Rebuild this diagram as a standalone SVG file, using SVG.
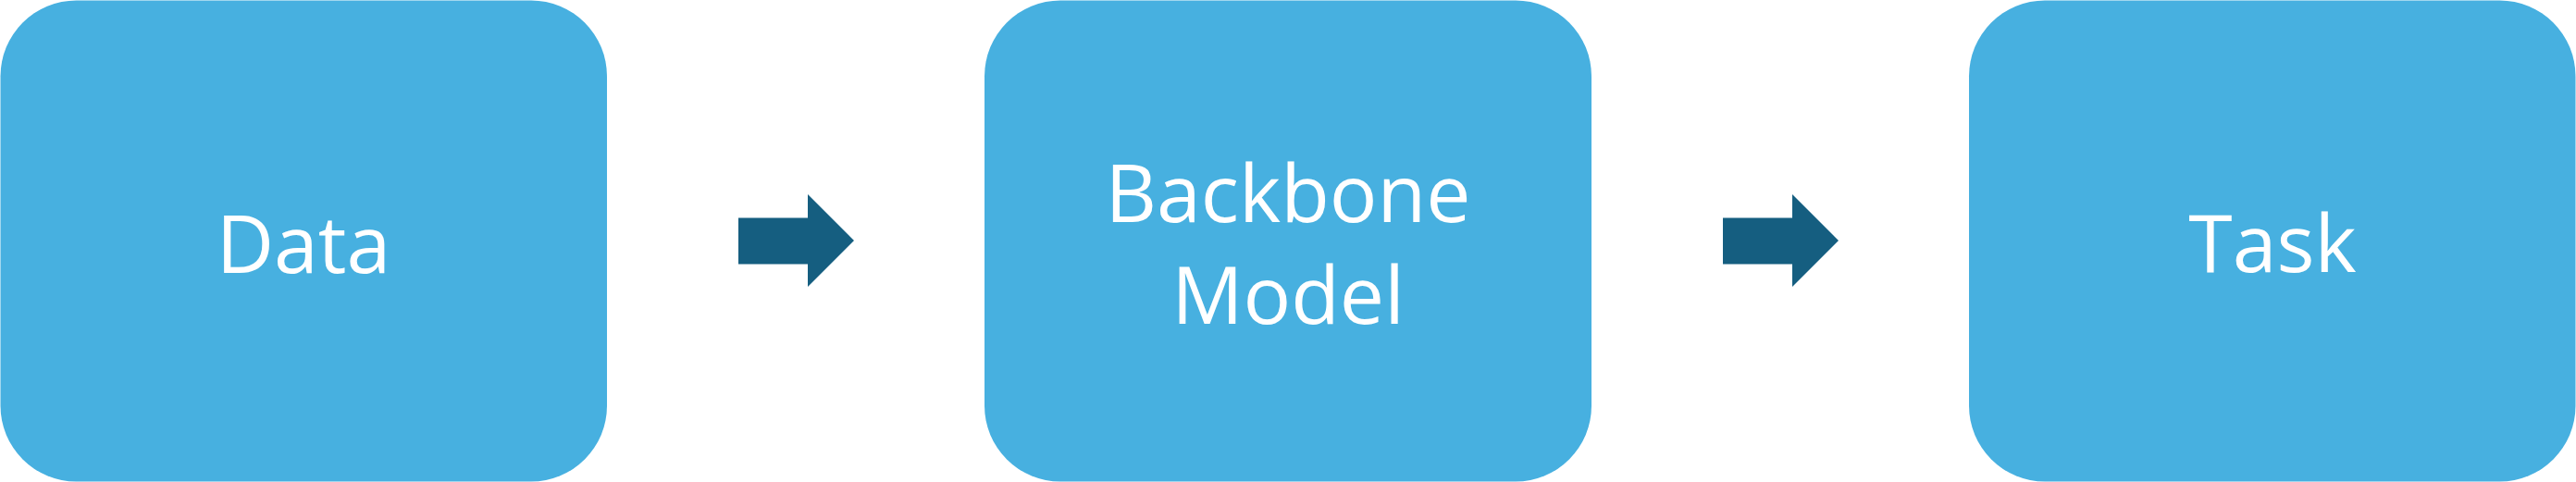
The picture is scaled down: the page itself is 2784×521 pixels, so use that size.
<svg xmlns="http://www.w3.org/2000/svg" width="2784" height="521" viewBox="0 0 2784 521">
<style>
.box{fill:#47B0E0;}
.lbl{fill:#FFFFFF;font-family:"Open Sans","Noto Sans","Liberation Sans",sans-serif;font-size:86px;text-anchor:middle;}
.arr{fill:#155E80;}
</style>
<rect x="0" y="0" width="2784" height="521" fill="#FFFFFF"/>
<g id="node-data">
<rect class="box" x="0.5" y="0.5" width="655.5" height="520" rx="82" ry="82"/>
<text class="lbl" x="328" y="295">Data</text>
</g>
<g id="node-backbone">
<rect class="box" x="1064" y="0.5" width="656" height="520" rx="82" ry="82"/>
<text class="lbl" x="1392" y="239.5">Backbone</text>
<text class="lbl" x="1392" y="350">Model</text>
</g>
<g id="node-task">
<rect class="box" x="2128" y="0.5" width="655.5" height="520" rx="82" ry="82"/>
<text class="lbl" x="2456" y="294">Task</text>
</g>
<g id="connectors">
<polygon class="arr" points="798,235.5 873,235.5 873,210 923,260 873,310 873,285.5 798,285.5"/>
<polygon class="arr" points="1862,235.5 1937,235.5 1937,210 1987,260 1937,310 1937,285.5 1862,285.5"/>
</g>
</svg>
